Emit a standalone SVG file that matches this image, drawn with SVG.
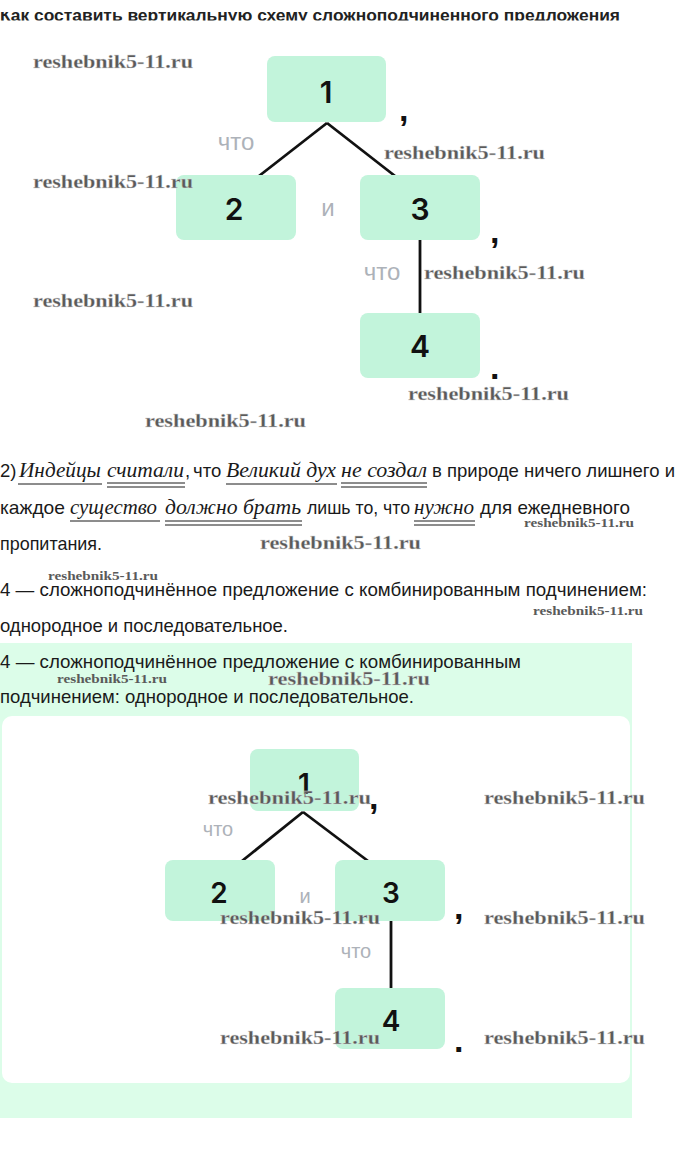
<svg xmlns="http://www.w3.org/2000/svg" width="680" height="1152" viewBox="0 0 680 1152">
<style>
.box{fill:#c2f4db}
.num{font-family:Inter,"Liberation Sans",Arial,sans-serif;font-size:30px;font-weight:600;fill:#111;text-anchor:middle}
.numb{font-family:Inter,"Liberation Sans",Arial,sans-serif;font-size:28px;font-weight:600;fill:#111;text-anchor:middle}
.conj{font-family:"Liberation Sans",Arial,sans-serif;font-size:24px;fill:#adb2b9;text-anchor:middle}
.conjb{font-family:"Liberation Sans",Arial,sans-serif;font-size:20px;fill:#adb2b9;text-anchor:middle}
.punct{font-family:"Liberation Sans",Arial,sans-serif;font-size:34px;font-weight:bold;fill:#111}
.wm{font-family:"Liberation Serif","Times New Roman",serif;font-weight:bold;font-size:19px;fill:#5a5a5a;stroke:#d8d8d8;stroke-width:0.3}
.wms{font-family:"Liberation Serif","Times New Roman",serif;font-weight:bold;font-size:13px;fill:#5a5a5a}
.txt{font-family:"Liberation Sans",Arial,sans-serif;font-size:18.5px;fill:#1a1a1a}
.it{font-family:"Liberation Serif","Times New Roman",serif;font-style:italic;font-size:21px;fill:#1a1a1a}
.ul{stroke:#1a1a1a;stroke-width:1}
.edge{stroke:#111;stroke-width:2.8;fill:none}
</style>
<defs>
<clipPath id="titleclip"><rect x="0" y="12" width="680" height="8.5"/></clipPath>
</defs>
<rect x="0" y="0" width="680" height="1152" fill="#ffffff"/>

<!-- title (clipped) -->
<text x="0" y="21" clip-path="url(#titleclip)" font-family="Liberation Sans, Arial, sans-serif" font-size="17" font-weight="bold" fill="#222" textLength="620" lengthAdjust="spacingAndGlyphs">Как составить вертикальную схему сложноподчинённого предложения</text>

<!-- top diagram connectors -->
<g id="connectors-top">
<line class="edge" x1="327" y1="123" x2="259" y2="176"/>
<line class="edge" x1="327" y1="123" x2="395" y2="176"/>
<line class="edge" x1="420" y1="240" x2="420" y2="313"/>
</g>
<g id="t-node1"><rect class="box" x="267" y="56" width="119" height="66" rx="8"/><text class="num" x="326" y="103">1</text></g>
<g id="t-node2"><rect class="box" x="176" y="175" width="120" height="65" rx="8"/><text class="num" x="234" y="220">2</text></g>
<g id="t-node3"><rect class="box" x="360" y="175" width="120" height="65" rx="8"/><text class="num" x="420" y="220">3</text></g>
<g id="t-node4"><rect class="box" x="360" y="313" width="120" height="65" rx="8"/><text class="num" x="420" y="357">4</text></g>
<g id="t-labels">
<text class="conj" x="236" y="150">что</text>
<text class="conj" x="328" y="216">и</text>
<text class="conj" x="382" y="280">что</text>
<text class="punct" x="399" y="121">,</text>
<text class="punct" x="490" y="243">,</text>
<text class="punct" x="490" y="379">.</text>
</g>

<!-- paragraph -->
<g id="paragraph">
<text class="txt" x="0" y="477">2)</text>
<text class="it" x="19" y="477" textLength="82" lengthAdjust="spacingAndGlyphs">Индейцы</text>
<text class="it" x="107" y="477" textLength="77" lengthAdjust="spacingAndGlyphs">считали</text>
<text class="txt" x="185" y="477">,</text>
<text class="txt" x="193" y="477">что</text>
<text class="it" x="226" y="477" textLength="110" lengthAdjust="spacingAndGlyphs">Великий дух</text>
<text class="it" x="341" y="477" textLength="86" lengthAdjust="spacingAndGlyphs">не создал</text>
<text class="txt" x="432" y="477" textLength="243" lengthAdjust="spacingAndGlyphs">в природе ничего лишнего и</text>
<line class="ul" x1="18" y1="484" x2="102" y2="484"/>
<line class="ul" x1="107" y1="483" x2="185" y2="483"/><line class="ul" x1="107" y1="487" x2="185" y2="487"/>
<line class="ul" x1="226" y1="484" x2="337" y2="484"/>
<line class="ul" x1="341" y1="483" x2="427" y2="483"/><line class="ul" x1="341" y1="487" x2="427" y2="487"/>

<text class="txt" x="0" y="514" textLength="65" lengthAdjust="spacingAndGlyphs">каждое</text>
<text class="it" x="70" y="514" textLength="87" lengthAdjust="spacingAndGlyphs">существо</text>
<text class="it" x="165" y="514" textLength="136" lengthAdjust="spacingAndGlyphs">должно брать</text>
<text class="txt" x="307" y="514" textLength="103" lengthAdjust="spacingAndGlyphs">лишь то, что</text>
<text class="it" x="414" y="514" textLength="60" lengthAdjust="spacingAndGlyphs">нужно</text>
<text class="txt" x="480" y="514" textLength="150" lengthAdjust="spacingAndGlyphs">для ежедневного</text>
<line class="ul" x1="70" y1="521" x2="160" y2="521"/>
<line class="ul" x1="165" y1="521" x2="302" y2="521"/><line class="ul" x1="165" y1="525" x2="302" y2="525"/>
<line class="ul" x1="414" y1="521" x2="475" y2="521"/><line class="ul" x1="414" y1="525" x2="475" y2="525"/>

<text class="txt" x="0" y="550" textLength="102" lengthAdjust="spacingAndGlyphs">пропитания.</text>

<text class="txt" x="0" y="596" textLength="647" lengthAdjust="spacingAndGlyphs">4 — сложноподчинённое предложение с комбинированным подчинением:</text>
<text class="txt" x="0" y="632" textLength="288" lengthAdjust="spacingAndGlyphs">однородное и последовательное.</text>
</g>

<!-- green answer block -->
<g id="answer">
<rect x="0" y="643" width="632" height="475" fill="#dcfde9"/>
<text class="txt" x="0" y="668" textLength="521" lengthAdjust="spacingAndGlyphs">4 — сложноподчинённое предложение с комбинированным</text>
<text class="txt" x="0" y="703" textLength="414" lengthAdjust="spacingAndGlyphs">подчинением: однородное и последовательное.</text>
<rect x="2" y="716" width="628" height="367" rx="10" fill="#ffffff"/>
</g>

<!-- bottom diagram -->
<g id="connectors-bottom">
<line class="edge" x1="303" y1="812" x2="242" y2="861"/>
<line class="edge" x1="303" y1="812" x2="368" y2="861"/>
<line class="edge" x1="391" y1="921" x2="391" y2="988"/>
</g>
<g id="b-node1"><rect class="box" x="250" y="749" width="109" height="62" rx="8"/><text class="numb" x="304" y="794">1</text></g>
<g id="b-node2"><rect class="box" x="165" y="860" width="110" height="61" rx="8"/><text class="numb" x="219" y="903">2</text></g>
<g id="b-node3"><rect class="box" x="335" y="860" width="110" height="61" rx="8"/><text class="numb" x="391" y="903">3</text></g>
<g id="b-node4"><rect class="box" x="335" y="988" width="110" height="61" rx="8"/><text class="numb" x="391" y="1031">4</text></g>
<g id="b-labels">
<text class="conjb" x="218" y="836">что</text>
<text class="conjb" x="305" y="903">и</text>
<text class="conjb" x="356" y="958">что</text>
<text class="punct" x="369" y="809">,</text>
<text class="punct" x="454" y="919">,</text>
<text class="punct" x="454" y="1052">.</text>
</g>

<!-- watermarks -->
<g id="watermarks">
<text class="wm" x="33" y="68" textLength="160" lengthAdjust="spacingAndGlyphs">reshebnik5-11.ru</text>
<text class="wm" x="33" y="188" textLength="160" lengthAdjust="spacingAndGlyphs">reshebnik5-11.ru</text>
<text class="wm" x="384" y="159" textLength="161" lengthAdjust="spacingAndGlyphs">reshebnik5-11.ru</text>
<text class="wm" x="424" y="279" textLength="161" lengthAdjust="spacingAndGlyphs">reshebnik5-11.ru</text>
<text class="wm" x="33" y="307" textLength="160" lengthAdjust="spacingAndGlyphs">reshebnik5-11.ru</text>
<text class="wm" x="408" y="400" textLength="161" lengthAdjust="spacingAndGlyphs">reshebnik5-11.ru</text>
<text class="wm" x="145" y="427" textLength="161" lengthAdjust="spacingAndGlyphs">reshebnik5-11.ru</text>
<text class="wms" x="524" y="527" textLength="110" lengthAdjust="spacingAndGlyphs">reshebnik5-11.ru</text>
<text class="wm" x="260" y="549" textLength="161" lengthAdjust="spacingAndGlyphs">reshebnik5-11.ru</text>
<text class="wms" x="48" y="580" textLength="110" lengthAdjust="spacingAndGlyphs">reshebnik5-11.ru</text>
<text class="wms" x="533" y="615" textLength="110" lengthAdjust="spacingAndGlyphs">reshebnik5-11.ru</text>
<text class="wms" x="57" y="683" textLength="110" lengthAdjust="spacingAndGlyphs">reshebnik5-11.ru</text>
<text class="wm" x="268" y="685" textLength="162" lengthAdjust="spacingAndGlyphs">reshebnik5-11.ru</text>
<text class="wm" x="208" y="804" textLength="163" lengthAdjust="spacingAndGlyphs">reshebnik5-11.ru</text>
<text class="wm" x="484" y="804" textLength="161" lengthAdjust="spacingAndGlyphs">reshebnik5-11.ru</text>
<text class="wm" x="220" y="924" textLength="160" lengthAdjust="spacingAndGlyphs">reshebnik5-11.ru</text>
<text class="wm" x="484" y="924" textLength="161" lengthAdjust="spacingAndGlyphs">reshebnik5-11.ru</text>
<text class="wm" x="220" y="1044" textLength="160" lengthAdjust="spacingAndGlyphs">reshebnik5-11.ru</text>
<text class="wm" x="484" y="1044" textLength="161" lengthAdjust="spacingAndGlyphs">reshebnik5-11.ru</text>
</g>
</svg>
